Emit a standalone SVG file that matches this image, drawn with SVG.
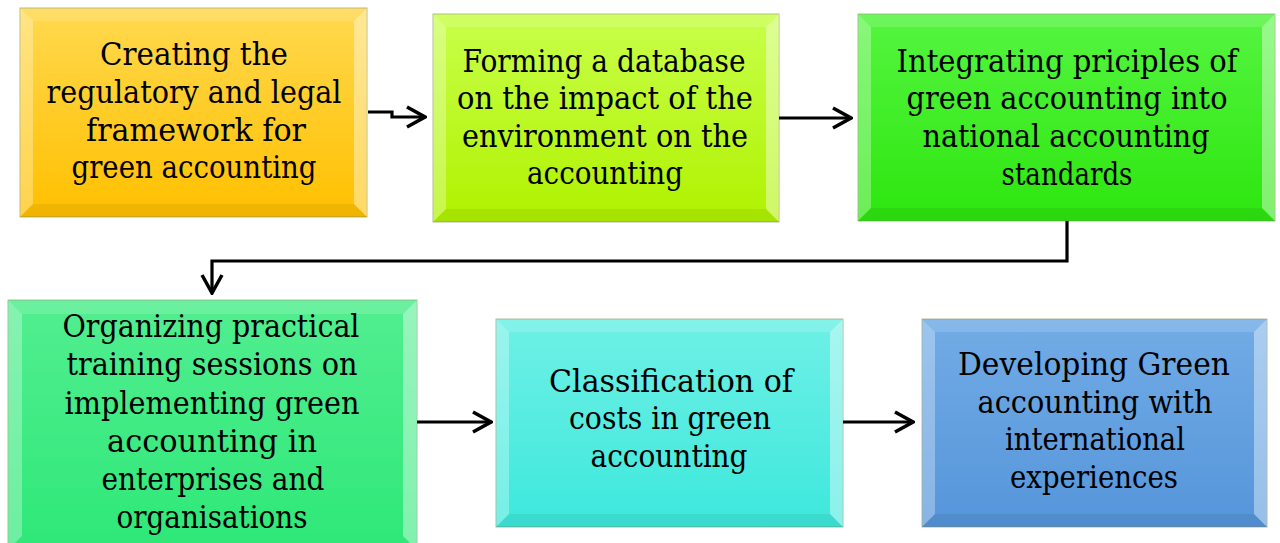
<svg xmlns="http://www.w3.org/2000/svg" width="1280" height="543" viewBox="0 0 1280 543">
<defs>
<linearGradient id="g1" x1="0" y1="0" x2="0" y2="1"><stop offset="0" stop-color="#FFD94F"/><stop offset="1" stop-color="#FFC000"/></linearGradient>
<linearGradient id="g2" x1="0" y1="0" x2="0" y2="1"><stop offset="0" stop-color="#C8FF4A"/><stop offset="1" stop-color="#B0F200"/></linearGradient>
<linearGradient id="g3" x1="0" y1="0" x2="0" y2="1"><stop offset="0" stop-color="#55F540"/><stop offset="1" stop-color="#2DE60F"/></linearGradient>
<linearGradient id="g4" x1="0" y1="0" x2="0" y2="1"><stop offset="0" stop-color="#52EE90"/><stop offset="1" stop-color="#2EE878"/></linearGradient>
<linearGradient id="g5" x1="0" y1="0" x2="0" y2="1"><stop offset="0" stop-color="#6FF0E6"/><stop offset="1" stop-color="#3DE8DC"/></linearGradient>
<linearGradient id="g6" x1="0" y1="0" x2="0" y2="1"><stop offset="0" stop-color="#72ACE6"/><stop offset="1" stop-color="#5595DA"/></linearGradient>
<marker id="ah" viewBox="0 0 22 24" refX="20" refY="12" markerWidth="22" markerHeight="24" markerUnits="userSpaceOnUse" orient="auto">
<path d="M2,2 L20,12 L2,22" fill="none" stroke="#000" stroke-width="3.5" stroke-linejoin="miter"/>
</marker>
</defs>
<style>
.box{stroke:#7f8f5f;stroke-opacity:0.6;stroke-width:1}
.bt{fill:#fff;fill-opacity:0.15}
.bl{fill:#fff;fill-opacity:0.3}
.br{fill:#fff;fill-opacity:0.4}
.bb{fill:#000;fill-opacity:0.06}
text{font-family:"DejaVu Serif","Liberation Serif",serif;font-size:31px;fill:#000;text-anchor:middle}
.conn path{fill:none;stroke:#000;stroke-width:3.2}
</style>
<rect width="1280" height="543" fill="#fff"/>

<g id="n1">
<rect class="box" x="20" y="8" width="347" height="209" fill="url(#g1)"/>
<polygon class="bt" points="20,8 367,8 354,21 33,21"/>
<polygon class="bl" points="20,8 33,21 33,204 20,217"/>
<polygon class="br" points="367,8 367,217 354,204 354,21"/>
<polygon class="bb" points="20,217 367,217 354,204 33,204"/>
<text x="194" y="65" textLength="188" lengthAdjust="spacingAndGlyphs">Creating  the</text>
<text x="194" y="103" textLength="295" lengthAdjust="spacingAndGlyphs">regulatory  and legal</text>
<text x="196" y="141" textLength="220" lengthAdjust="spacingAndGlyphs">framework  for</text>
<text x="194" y="178" textLength="245" lengthAdjust="spacingAndGlyphs">green accounting</text>
</g>

<g id="n2">
<rect class="box" x="433" y="14" width="346" height="208" fill="url(#g2)"/>
<polygon class="bt" points="433,14 779,14 766,27 446,27"/>
<polygon class="bl" points="433,14 446,27 446,209 433,222"/>
<polygon class="br" points="779,14 779,222 766,209 766,27"/>
<polygon class="bb" points="433,222 779,222 766,209 446,209"/>
<text x="604" y="72" textLength="283" lengthAdjust="spacingAndGlyphs">Forming a database</text>
<text x="605" y="109" textLength="296" lengthAdjust="spacingAndGlyphs">on the impact of the</text>
<text x="605" y="147" textLength="286" lengthAdjust="spacingAndGlyphs">environment on the</text>
<text x="605" y="184" textLength="156" lengthAdjust="spacingAndGlyphs">accounting</text>
</g>

<g id="n3">
<rect class="box" x="858" y="14" width="417" height="207" fill="url(#g3)"/>
<polygon class="bt" points="858,14 1275,14 1262,27 871,27"/>
<polygon class="bl" points="858,14 871,27 871,208 858,221"/>
<polygon class="br" points="1275,14 1275,221 1262,208 1262,27"/>
<polygon class="bb" points="858,221 1275,221 1262,208 871,208"/>
<text x="1067" y="72" textLength="341" lengthAdjust="spacingAndGlyphs">Integrating priciples of</text>
<text x="1067" y="109" textLength="321" lengthAdjust="spacingAndGlyphs">green accounting into</text>
<text x="1066" y="147" textLength="287" lengthAdjust="spacingAndGlyphs">national accounting</text>
<text x="1067" y="185" textLength="131" lengthAdjust="spacingAndGlyphs">standards</text>
</g>

<g id="n4">
<rect class="box" x="8" y="300" width="409" height="250" fill="url(#g4)"/>
<polygon class="bt" points="8,300 417,300 403,314 22,314"/>
<polygon class="bl" points="8,300 22,314 22,536 8,550"/>
<polygon class="br" points="417,300 417,550 403,536 403,314"/>
<text x="211" y="337" textLength="297" lengthAdjust="spacingAndGlyphs">Organizing  practical</text>
<text x="212" y="375" textLength="291" lengthAdjust="spacingAndGlyphs">training  sessions on</text>
<text x="212" y="414" textLength="295" lengthAdjust="spacingAndGlyphs">implementing  green</text>
<text x="212" y="452" textLength="210" lengthAdjust="spacingAndGlyphs">accounting   in</text>
<text x="213" y="490" textLength="223" lengthAdjust="spacingAndGlyphs">enterprises  and</text>
<text x="212" y="528" textLength="191" lengthAdjust="spacingAndGlyphs">organisations</text>
</g>

<g id="n5">
<rect class="box" x="496" y="319" width="347" height="208" fill="url(#g5)"/>
<polygon class="bt" points="496,319 843,319 830,332 509,332"/>
<polygon class="bl" points="496,319 509,332 509,514 496,527"/>
<polygon class="br" points="843,319 843,527 830,514 830,332"/>
<polygon class="bb" points="496,527 843,527 830,514 509,514"/>
<text x="671" y="392" textLength="244" lengthAdjust="spacingAndGlyphs">Classification  of</text>
<text x="670" y="429" textLength="202" lengthAdjust="spacingAndGlyphs">costs  in green</text>
<text x="669" y="467" textLength="157" lengthAdjust="spacingAndGlyphs">accounting</text>
</g>

<g id="n6">
<rect class="box" x="922" y="319" width="345" height="208" fill="url(#g6)"/>
<polygon class="bt" points="922,319 1267,319 1254,332 935,332"/>
<polygon class="bl" points="922,319 935,332 935,514 922,527"/>
<polygon class="br" points="1267,319 1267,527 1254,514 1254,332"/>
<polygon class="bb" points="922,527 1267,527 1254,514 935,514"/>
<text x="1094" y="375" textLength="272" lengthAdjust="spacingAndGlyphs">Developing  Green</text>
<text x="1095" y="413" textLength="235" lengthAdjust="spacingAndGlyphs">accounting  with</text>
<text x="1095" y="450" textLength="180" lengthAdjust="spacingAndGlyphs">international</text>
<text x="1094" y="488" textLength="168" lengthAdjust="spacingAndGlyphs">experiences</text>
</g>

<g id="connectors" class="conn">
<path d="M368,112 L392,112 L392,117 L425,117" marker-end="url(#ah)"/>
<path d="M779,118 L851,118" marker-end="url(#ah)"/>
<path d="M1067,221 L1067,261 L212,261 L212,293" marker-end="url(#ah)"/>
<path d="M417,422 L491,422" marker-end="url(#ah)"/>
<path d="M843,422 L913,422" marker-end="url(#ah)"/>
</g>
</svg>
